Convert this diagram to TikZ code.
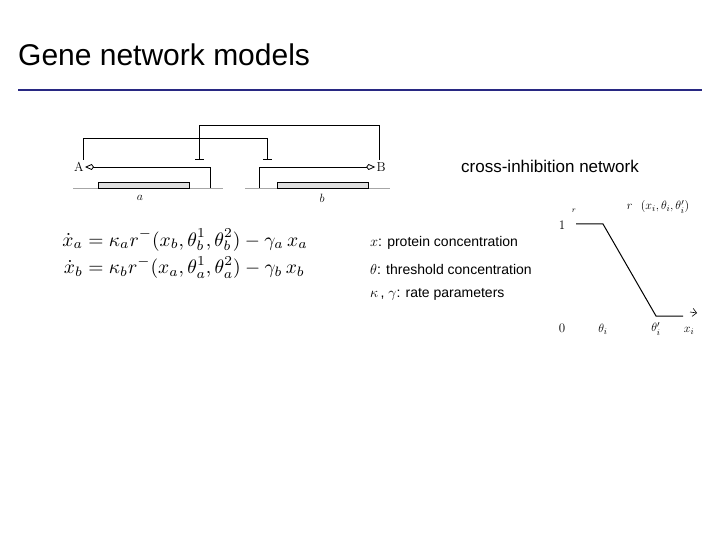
\documentclass[tikz,border=0pt]{standalone}
\usepackage{amsmath}
\usepackage{fontspec}
\setsansfont{Liberation Sans}
\usetikzlibrary{arrows.meta}
\definecolor{rulenavy}{RGB}{40,40,130}
\begin{document}
\begin{tikzpicture}[x=1pt,y=-1pt,
    wire/.style={line width=1pt},
    gene/.style={draw=gray!70, line width=0.8pt},
    genebox/.style={draw, fill=gray!25, line width=0.8pt},
    prom/.style={line width=0.8pt, -{Kite[open,length=9pt,width=6pt]}},
    repr/.style={wire, -{Bar[width=9pt]}},
    lbl/.style={font=\fontsize{13}{15}\selectfont},
    legend/.style={font=\sffamily\fontsize{14}{16}\selectfont, anchor=west, inner sep=0pt}
  ]
  \useasboundingbox (0,0) rectangle (720,540);
  % title and rule
  \node[font=\sffamily\fontsize{30}{34}\selectfont, anchor=west, inner sep=0pt] (title) at (18,55) {Gene network models};
  \draw[rulenavy, line width=2pt] (18,90) -- (702,90);

  % genes
  \draw[gene] (73,188) -- (223,188);
  \draw[gene] (245,188) -- (390,188);
  \draw[genebox] (98,182) rectangle (189,188);
  \draw[genebox] (277,182) rectangle (368,188);
  \node[lbl] (la) at (140,198) {$a$};
  \node[lbl] (lb) at (322,198) {$b$};
  \node[lbl, inner sep=1pt] (A) at (79,167) {A};
  \node[lbl, inner sep=1pt] (B) at (381,167) {B};
  \coordinate (pa) at (210,188);
  \coordinate (pb) at (259,188);
  \draw[prom] (pa) |- (A.east);
  \draw[prom] (pb) |- (B.west);
  % cross inhibition
  \draw[repr] (83,160) |- (267,139) -- (267,160);
  \draw[repr] (379,160) |- (199,126) -- (199,160);
  \node[font=\sffamily\fontsize{17}{19}\selectfont, anchor=west, inner sep=0pt] (net) at (461,166) {cross-inhibition network};

  % equations
  \node[anchor=west, inner sep=0pt, scale=1.95] (eqs) at (62,255) {$\begin{aligned}
    \dot x_a &= \kappa_a r^-(x_b,\theta_b^1,\theta_b^2) - \gamma_a\, x_a\\[-2pt]
    \dot x_b &= \kappa_b r^-(x_a,\theta_a^1,\theta_a^2) - \gamma_b\, x_b
  \end{aligned}$};
  \node[legend] (lx) at (370,243) {$x$: protein concentration};
  \node[legend] (lt) at (370,269) {$\theta$: threshold concentration};
  \node[legend] (lk) at (370,294) {$\kappa$\,, $\gamma$: rate parameters};

  % ramp function
  \coordinate (t1) at (603,224);
  \coordinate (t2) at (656,316);
  \draw[wire] (576,224) -- (t1) -- (t2) -- (683,316);
  \node[lbl] (one) at (562,225) {1};
  \node[lbl] (zero) at (562,328) {0};
  \node[lbl] (th1) at (603,329) {$\theta_i$};
  \node[lbl] (th2) at (656,329) {$\theta_i'$};
  \node[lbl] (xi) at (689,331) {$x_i$};
  \node[lbl] (fr) at (658,207) {$r\ \ (x_i,\theta_i,\theta_i')$};
  \node[font=\fontsize{8}{9}\selectfont] (ra) at (574,211) {$r$};
  \draw[-{Straight Barb[length=4pt]}, line width=0.6pt] (690,312) -- (697,313);
\end{tikzpicture}
\end{document}
